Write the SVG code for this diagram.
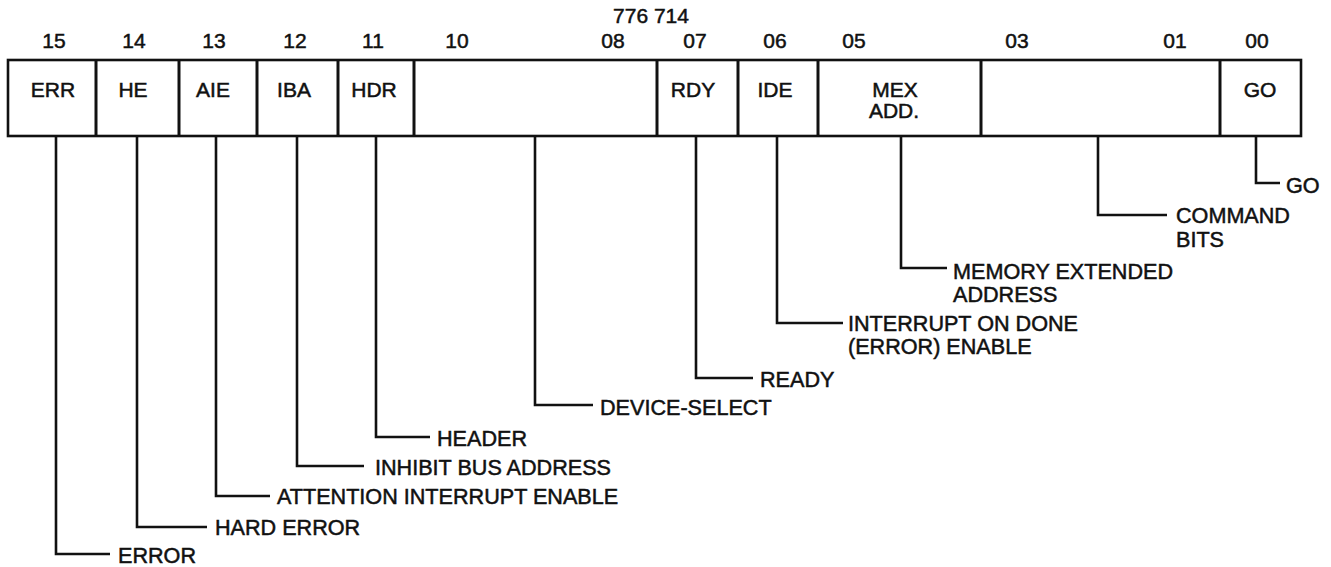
<svg xmlns="http://www.w3.org/2000/svg" width="1331" height="567" viewBox="0 0 1331 567">
  <style>
    text { font-family: "Liberation Sans", Arial, sans-serif; fill: #111; stroke: #111; stroke-width: 0.5; }
    .num { font-size: 21px; text-anchor: middle; }
    .fld { font-size: 21px; text-anchor: middle; }
    .lbl { font-size: 21.6px; }
    .reg { fill: #fff; stroke: #111; stroke-width: 2.6; }
    .div { stroke: #111; stroke-width: 3; }
    .lead { fill: none; stroke: #111; stroke-width: 2.6; }
  </style>

  <rect width="1331" height="567" fill="#fff"/>

  <!-- register address and bit numbers -->
  <g id="header">
    <text class="num" x="651" y="23">776 714</text>
    <text class="num" x="54" y="48">15</text>
    <text class="num" x="134" y="48">14</text>
    <text class="num" x="214" y="48">13</text>
    <text class="num" x="295" y="48">12</text>
    <text class="num" x="373" y="48">11</text>
    <text class="num" x="457" y="48">10</text>
    <text class="num" x="613" y="48">08</text>
    <text class="num" x="695" y="48">07</text>
    <text class="num" x="775" y="48">06</text>
    <text class="num" x="854" y="48">05</text>
    <text class="num" x="1017" y="48">03</text>
    <text class="num" x="1175" y="48">01</text>
    <text class="num" x="1257" y="48">00</text>
  </g>

  <!-- register outline and field dividers -->
  <g id="register">
    <rect class="reg" x="8" y="60" width="1293" height="76"/>
    <line class="div" x1="96" y1="60" x2="96" y2="136"/>
    <line class="div" x1="179" y1="60" x2="179" y2="136"/>
    <line class="div" x1="257" y1="60" x2="257" y2="136"/>
    <line class="div" x1="338" y1="60" x2="338" y2="136"/>
    <line class="div" x1="414" y1="60" x2="414" y2="136"/>
    <line class="div" x1="657" y1="60" x2="657" y2="136"/>
    <line class="div" x1="738" y1="60" x2="738" y2="136"/>
    <line class="div" x1="818" y1="60" x2="818" y2="136"/>
    <line class="div" x1="981" y1="60" x2="981" y2="136"/>
    <line class="div" x1="1220" y1="60" x2="1220" y2="136"/>
  </g>

  <!-- field names -->
  <g id="field-err"><text class="fld" x="53" y="97">ERR</text></g>
  <g id="field-he"><text class="fld" x="133" y="97">HE</text></g>
  <g id="field-aie"><text class="fld" x="213" y="97">AIE</text></g>
  <g id="field-iba"><text class="fld" x="294" y="97">IBA</text></g>
  <g id="field-hdr"><text class="fld" x="374" y="97">HDR</text></g>
  <g id="field-rdy"><text class="fld" x="693" y="97">RDY</text></g>
  <g id="field-ide"><text class="fld" x="775" y="97">IDE</text></g>
  <g id="field-mex">
    <text class="fld" x="895" y="97">MEX</text>
    <text class="fld" x="894" y="118">ADD.</text>
  </g>
  <g id="field-go"><text class="fld" x="1260" y="97">GO</text></g>

  <!-- leader lines from each field -->
  <g id="connectors">
    <polyline class="lead" points="56,136 56,554 110,554"/>
    <polyline class="lead" points="137,136 137,527 207,527"/>
    <polyline class="lead" points="216,136 216,496 270,496"/>
    <polyline class="lead" points="297,136 297,466 364,466"/>
    <polyline class="lead" points="376,136 376,437 430,437"/>
    <polyline class="lead" points="535,136 535,405 593,405"/>
    <polyline class="lead" points="696,136 696,378 753,378"/>
    <polyline class="lead" points="777,136 777,323 843,323"/>
    <polyline class="lead" points="901,136 901,268 947,268"/>
    <polyline class="lead" points="1098,136 1098,215 1167,215"/>
    <polyline class="lead" points="1256,136 1256,183 1280,183"/>
  </g>

  <!-- descriptions -->
  <g id="desc-error"><text class="lbl" x="118" y="563">ERROR</text></g>
  <g id="desc-hard-error"><text class="lbl" x="215" y="535">HARD ERROR</text></g>
  <g id="desc-attention"><text class="lbl" x="277" y="504">ATTENTION INTERRUPT ENABLE</text></g>
  <g id="desc-inhibit"><text class="lbl" x="375" y="475">INHIBIT BUS ADDRESS</text></g>
  <g id="desc-header"><text class="lbl" x="437" y="446">HEADER</text></g>
  <g id="desc-device-select"><text class="lbl" x="600" y="415">DEVICE-SELECT</text></g>
  <g id="desc-ready"><text class="lbl" x="760" y="387">READY</text></g>
  <g id="desc-interrupt-done">
    <text class="lbl" x="848" y="331">INTERRUPT ON DONE</text>
    <text class="lbl" x="848" y="354">(ERROR) ENABLE</text>
  </g>
  <g id="desc-memory-ext">
    <text class="lbl" x="953" y="279">MEMORY EXTENDED</text>
    <text class="lbl" x="953" y="302">ADDRESS</text>
  </g>
  <g id="desc-command">
    <text class="lbl" x="1176" y="223">COMMAND</text>
    <text class="lbl" x="1176" y="247">BITS</text>
  </g>
  <g id="desc-go"><text class="lbl" x="1286" y="193">GO</text></g>
</svg>
